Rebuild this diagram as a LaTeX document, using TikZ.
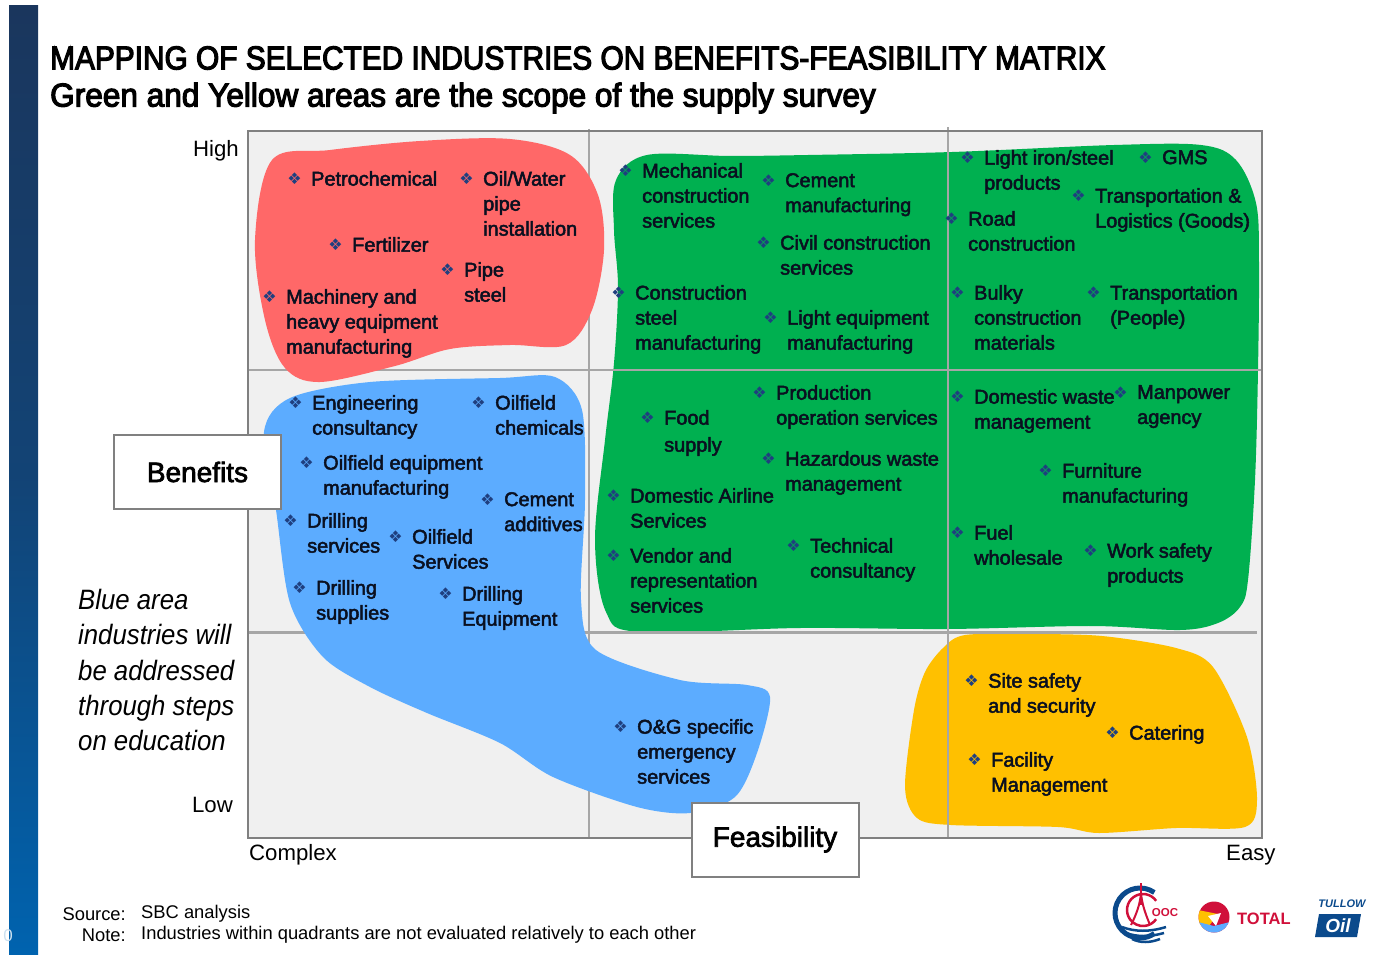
\documentclass[tikz,border=0pt]{standalone}
\usepackage{fontspec}
\usepackage{xcolor}
\usepackage{tikz}
\setmainfont{Liberation Sans}
\newfontfamily\itemfont[FakeBold=2.5]{Liberation Sans}
\newfontfamily\titlefont[FakeBold=3.5,FakeStretch=0.904]{Liberation Sans}
\newfontfamily\subtitlefont[FakeBold=3.5,FakeStretch=0.957]{Liberation Sans}
\newfontfamily\remarkfont[FakeStretch=0.92]{Liberation Sans}
\newfontfamily\bulletfont{DejaVu Sans}
\definecolor{barnavy}{HTML}{1A365D}
\definecolor{barblue}{HTML}{0063AF}
\definecolor{panelgrey}{HTML}{F0F0F0}
\definecolor{gridgrey}{HTML}{A6A6A6}
\definecolor{framegrey}{HTML}{808080}
\definecolor{areared}{HTML}{FF6868}
\definecolor{areablue}{HTML}{5CACFF}
\definecolor{areagreen}{HTML}{00B050}
\definecolor{areayellow}{HTML}{FFC000}
\definecolor{markblue}{HTML}{1F3F7F}
\definecolor{logoblue}{HTML}{0B4A8C}
\definecolor{logored}{HTML}{D0103A}
\definecolor{inknavy}{HTML}{0A1020}
\newcommand{\industry}[4]{%
    \node [bulletmark] (#1mark) at (#2-16.5,#3) {\char"2756};
    \node [industry] (#1) at (#2,#3-8) {#4};
}
\begin{document}
\begin{tikzpicture}[
    x=1pt, y=-1pt,
    industry/.style={anchor=north west, inner sep=0pt, align=left, text=inknavy, font=\itemfont\fontsize{19.9}{25}\selectfont},
    bulletmark/.style={inner sep=0pt, text=markblue, font=\bulletfont\fontsize{16}{16}\selectfont},
    axislabel/.style={inner sep=0pt, font=\fontsize{22.2}{25}\selectfont},
    titleline/.style={anchor=west, inner sep=0pt, font=\fontsize{33}{35}\selectfont},
    notetext/.style={inner sep=0pt, font=\fontsize{18.35}{20}\selectfont},
    axisbox/.style={draw=framegrey, line width=2pt, fill=white, minimum width=167pt, minimum height=74pt, font=\itemfont\fontsize{28}{30}\selectfont},
    gridline/.style={draw=gridgrey, line width=2pt}
]
    \useasboundingbox (0,0) rectangle (1379,955);

    % Side bar
    \shade [top color=barnavy, bottom color=barblue, middle color=barnavy!70!barblue] (9,6) rectangle (38,955);
    \node [inner sep=0pt, text=white!80!barblue, font=\fontsize{17}{17}\selectfont] (barmark) at (8,936) {0};

    % Titles
    \node [titleline, font=\titlefont\fontsize{33}{35}\selectfont] (title) at (50,58) {MAPPING OF SELECTED INDUSTRIES ON BENEFITS-FEASIBILITY MATRIX};
    \node [titleline, font=\subtitlefont\fontsize{33}{35}\selectfont] (subtitle) at (50,98) {Green and Yellow areas are the scope of the supply survey};

    % Matrix panel
    \fill [panelgrey] (248,131) rectangle (1262,838);

    % Green and yellow areas
    \fill [areagreen] plot [smooth cycle, tension=0.55] coordinates {(616,180) (647,155) (730,156) (808,155) (952,152) (1114,145) (1201,145) (1236,160) (1256,203) (1259,263) (1258,370) (1255,480) (1248,580) (1240,607) (1218,623) (1180,630) (1092,626) (947,629) (800,628) (640,632) (606,612) (595,540) (605,440) (614,363) (618,287) (614,230)};
    \fill [areayellow] plot [smooth cycle, tension=0.5] coordinates {(965,635) (1030,634) (1102,636) (1176,648) (1213,667) (1247,737) (1257,800) (1245,827) (1176,828) (1099,833) (1058,827) (951,825) (917,818) (905,787) (914,710) (925,672) (943,648)};

    % Quadrant lines
    \draw [gridline] (589,129) -- (589,838);
    \draw [gridline] (948,127) -- (948,838);
    \draw [gridline] (248,370) -- (1262,370);
    \draw [gridline, line width=3pt] (248,632) -- (1257,632);

    % Red and blue areas
    \fill [areared] plot [smooth cycle, tension=0.55] coordinates {(272,160) (330,150) (420,141) (510,139) (570,155) (598,195) (604,250) (592,310) (566,345) (510,345) (450,349) (395,366) (320,382) (285,368) (265,320) (255,240)};
    \fill [areablue] plot [smooth cycle, tension=0.5] coordinates {(264,432) (290,398) (370,382) (500,378) (555,377) (582,410) (585,500) (581,600) (596,650) (680,680) (747,685) (770,697) (757,753) (735,797) (690,813) (637,807) (553,777) (500,743) (427,713) (370,687) (323,657) (290,603) (276,510)};

    % Matrix frame
    \draw [framegrey, line width=2pt] (248,131) rectangle (1262,838);

    % Axis labels
    \node [axislabel, anchor=east] (high) at (239,151) {High};
    \node [axislabel, anchor=east] (low) at (233,805) {Low};
    \node [axislabel, anchor=west] (complex) at (249,855) {Complex};
    \node [axislabel, anchor=west] (easy) at (1226,855) {Easy};
    \node [axisbox] (benefits) at (197.5,472) {\raisebox{-1pt}{Benefits}};
    \node [axisbox] (feasibility) at (775,839.5) {\raisebox{-4pt}{Feasibility}};

    % Remark on blue area
    \node [anchor=north west, inner sep=0pt, align=left, font=\remarkfont\itshape\fontsize{28}{35.3}\selectfont] (remark) at (78,589) {Blue area\\industries will\\be addressed\\through steps\\on education};

    % Red area
    \industry{petro}{311}{179}{Petrochemical}
    \industry{pipeinst}{483}{179}{Oil/Water\\pipe\\installation}
    \industry{fert}{352}{245}{Fertilizer}
    \industry{pipesteel}{464}{270}{Pipe\\steel}
    \industry{machinery}{286}{297}{Machinery and\\heavy equipment\\manufacturing}

    % Blue area
    \industry{engcons}{312}{403}{Engineering\\consultancy}
    \industry{oilchem}{495}{403}{Oilfield\\chemicals}
    \industry{oilequip}{323}{463}{Oilfield equipment\\manufacturing}
    \industry{cemadd}{504}{500}{Cement\\additives}
    \industry{drillserv}{307}{521}{Drilling\\services}
    \industry{oilserv}{412}{537}{Oilfield\\Services}
    \industry{drillsup}{316}{588}{Drilling\\supplies}
    \industry{drillequip}{462}{594}{Drilling\\Equipment}
    \industry{emergency}{637}{727}{O\&G specific\\emergency\\services}

    % Green area, upper row
    \industry{mechcons}{642}{171}{Mechanical\\construction\\services}
    \industry{cement}{785}{181}{Cement\\manufacturing}
    \industry{civil}{780}{243}{Civil construction\\services}
    \industry{conssteel}{635}{293}{Construction\\steel\\manufacturing}
    \industry{lightequip}{787}{318}{Light equipment\\manufacturing}
    \industry{lightiron}{984}{158}{Light iron/steel\\products}
    \industry{gms}{1162}{158}{GMS}
    \industry{transgoods}{1095}{196}{Transportation \&\\Logistics (Goods)}
    \industry{road}{968}{219}{Road\\construction}
    \industry{bulky}{974}{293}{Bulky\\construction\\materials}
    \industry{transpeople}{1110}{293}{Transportation\\(People)}

    % Green area, lower row
    \industry{prodop}{776}{393}{Production\\operation services}
    \industry{food}{664}{418}{Food\\[2pt]supply}
    \industry{hazard}{785}{459}{Hazardous waste\\management}
    \industry{airline}{630}{496}{Domestic Airline\\Services}
    \industry{vendor}{630}{556}{Vendor and\\representation\\services}
    \industry{techcons}{810}{546}{Technical\\consultancy}
    \industry{waste}{974}{397}{Domestic waste\\management}
    \industry{manpower}{1137}{393}{Manpower\\agency}
    \industry{furniture}{1062}{471}{Furniture\\manufacturing}
    \industry{fuel}{974}{533}{Fuel\\wholesale}
    \industry{worksafety}{1107}{551}{Work safety\\products}

    % Yellow area
    \industry{sitesafety}{988}{681}{Site safety\\and security}
    \industry{catering}{1129}{733}{Catering}
    \industry{facility}{991}{760}{Facility\\Management}

    % Footnotes
    \node [notetext, anchor=east] (sourcekey) at (126,914) {Source:};
    \node [notetext, anchor=west] (sourcetext) at (141,914) {SBC analysis};
    \node [notetext, anchor=east] (notekey) at (126,935) {Note:};
    \node [notetext, anchor=west] (notetxt) at (141,935) {Industries within quadrants are not evaluated relatively to each other};

    % CNOOC logo
    \draw [logoblue, line width=5pt] (1140,913) ++(-55:25) arc (-55:-305:25);
    \draw [logored, line width=2.5pt] (1143,910) ++(-35:16) arc (-35:-325:16);
    \draw [logored, line width=2.5pt] (1141,883) -- (1141,905);
    \draw [logored, line width=2pt] (1131,925) .. controls (1136,915) and (1140,905) .. (1141,893) .. controls (1142,905) and (1146,915) .. (1150,925);
    \draw [logoblue, line width=2.5pt] (1122,927) .. controls (1135,932) and (1150,932) .. (1166,927);
    \draw [logoblue, line width=2.5pt] (1126,933) .. controls (1137,937) and (1150,937) .. (1164,933);
    \draw [logoblue, line width=2.5pt] (1132,939) .. controls (1140,943) and (1150,943) .. (1160,939);
    \node [inner sep=0pt, text=logored, font=\bfseries\fontsize{11.5}{11.5}\selectfont] (cnooc) at (1165,913) {OOC};

    % Total logo
    \begin{scope}
        \clip (1214,917) circle (15.5);
        \fill [logored] (1198,900) rectangle (1230,934);
        \fill [areayellow] (1198,910) -- (1218,914) -- (1206,930) -- (1198,925) -- cycle;
        \fill [white] (1208,916) -- (1221,913) -- (1216,926) -- cycle;
        \fill [areablue] (1198,922) -- (1214,926) -- (1230,922) -- (1230,934) -- (1198,934) -- cycle;
    \end{scope}
    \node [anchor=west, inner sep=0pt, text=logored, font=\bfseries\fontsize{16.5}{16.5}\selectfont] (total) at (1237,919) {TOTAL};

    % Tullow logo
    \fill [logoblue] (1319,914) -- (1361,914) -- (1357,937) -- (1315,937) -- cycle;
    \node [inner sep=0pt, text=white, font=\bfseries\itshape\fontsize{19}{19}\selectfont] (oil) at (1338,926) {Oil};
    \node [inner sep=0pt, text=logoblue, font=\bfseries\itshape\fontsize{11}{11}\selectfont] (tullow) at (1342,904) {TULLOW};
\end{tikzpicture}
\end{document}
